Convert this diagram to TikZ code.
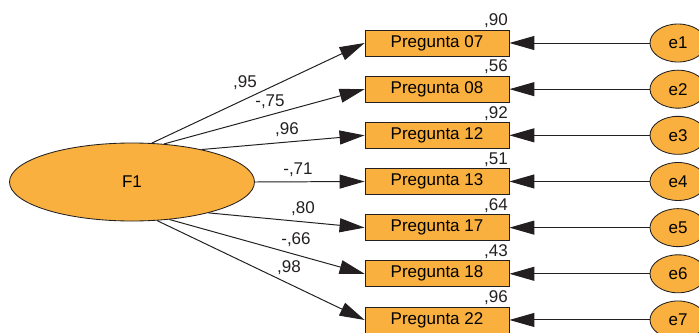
\documentclass[tikz,border=0pt]{standalone}
\usepackage{fontspec}
\setmainfont{Liberation Sans}
\usetikzlibrary{arrows.meta,shapes.geometric}
\definecolor{amosorange}{RGB}{249,176,62}
\definecolor{amosline}{RGB}{35,31,32}

\begin{document}
\begin{tikzpicture}[
  font=\fontsize{12.1}{14}\selectfont,
  latent/.style={ellipse,draw=amosline,fill=amosorange,inner sep=0pt,line width=0.6pt},
  item/.style={rectangle,draw=amosline,fill=amosorange,minimum width=3.6cm,minimum height=0.65cm,inner sep=0pt,line width=0.6pt},
  errvar/.style={latent,minimum width=1.4cm,minimum height=0.95cm},
  path/.style={-{Triangle[length=0.625cm,width=0.35cm]},draw=amosline,line width=0.7pt},
  coef/.style={text=amosline,inner sep=1pt}]
\useasboundingbox (0,0) rectangle (17.475,8.3);

\node[latent,minimum width=6.125cm,minimum height=1.95cm] (F1) at (3.3,3.75) {F1};

\node[item] (P07) at (10.925,7.225) {Pregunta 07};
\node[errvar] (e1) at (16.95,7.225) {e1};
\node[coef,anchor=south east] (r07) at (P07.north east) {,90};
\draw[path] (F1.63) -- (P07.west);
\draw[path] (e1.west) -- (P07.east);
\node[coef] (l07) at (6.125,6.225) {,95};

\node[item] (P08) at (10.925,6.071) {Pregunta 08};
\node[errvar] (e2) at (16.95,6.071) {e2};
\node[coef,anchor=south east] (r08) at (P08.north east) {,56};
\draw[path] (F1.50) -- (P08.west);
\draw[path] (e2.west) -- (P08.east);
\node[coef] (l08) at (6.75,5.75) {-,75};

\node[item] (P12) at (10.925,4.917) {Pregunta 12};
\node[errvar] (e3) at (16.95,4.917) {e3};
\node[coef,anchor=south east] (r12) at (P12.north east) {,92};
\draw[path] (F1.25) -- (P12.west);
\draw[path] (e3.west) -- (P12.east);
\node[coef] (l12) at (7.175,5.05) {,96};

\node[item] (P13) at (10.925,3.763) {Pregunta 13};
\node[errvar] (e4) at (16.95,3.763) {e4};
\node[coef,anchor=south east] (r13) at (P13.north east) {,51};
\draw[path] (F1.0) -- (P13.west);
\draw[path] (e4.west) -- (P13.east);
\node[coef] (l13) at (7.45,4.05) {-,71};

\node[item] (P17) at (10.925,2.609) {Pregunta 17};
\node[errvar] (e5) at (16.95,2.609) {e5};
\node[coef,anchor=south east] (r17) at (P17.north east) {,64};
\draw[path] (F1.-22) -- (P17.west);
\draw[path] (e5.west) -- (P17.east);
\node[coef] (l17) at (7.575,3.075) {,80};

\node[item] (P18) at (10.925,1.455) {Pregunta 18};
\node[errvar] (e6) at (16.95,1.455) {e6};
\node[coef,anchor=south east] (r18) at (P18.north east) {,43};
\draw[path] (F1.-45) -- (P18.west);
\draw[path] (e6.west) -- (P18.east);
\node[coef] (l18) at (7.4,2.3) {-,66};

\node[item] (P22) at (10.925,0.301) {Pregunta 22};
\node[errvar] (e7) at (16.95,0.301) {e7};
\node[coef,anchor=south east] (r22) at (P22.north east) {,96};
\draw[path] (F1.-57) -- (P22.west);
\draw[path] (e7.west) -- (P22.east);
\node[coef] (l22) at (7.225,1.6) {,98};
\end{tikzpicture}
\end{document}
